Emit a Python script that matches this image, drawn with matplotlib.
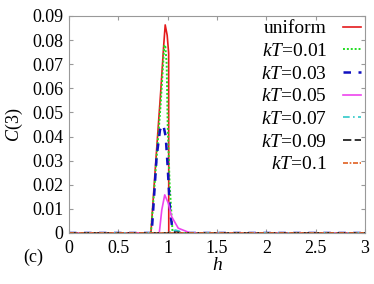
import matplotlib
matplotlib.use('Agg')
import matplotlib.pyplot as plt

plt.rcParams['font.family'] = 'Liberation Serif'
plt.rcParams['mathtext.fontset'] = 'custom'
plt.rcParams['mathtext.rm'] = 'Liberation Serif'
plt.rcParams['mathtext.it'] = 'Liberation Serif:italic'

h_uni = [0, 0.83, 0.88, 0.93, 0.96, 0.975, 0.995, 1.01, 1.011, 3.0]
c_uni = [0, 0, 0.030, 0.059, 0.078, 0.0863, 0.082, 0.0745, 0, 0]

h_001 = [0, 0.83, 0.88, 0.93, 0.965, 0.975, 0.99, 1.0, 1.02, 1.05, 3.0]
c_001 = [0, 0, 0.027, 0.054, 0.0775, 0.078, 0.070, 0.045, 0.020, 0, 0]

h_003 = [0, 0.838, 0.888, 0.922, 0.945, 0.96, 0.98, 1.0, 1.023, 1.05, 1.07, 3.0]
c_003 = [0, 0, 0.0316, 0.0427, 0.0448, 0.0440, 0.040, 0.0275, 0.0095, 0.001, 0, 0]

h_005 = [0, 0.915, 0.94, 0.97, 1.006, 1.04, 1.107, 1.23, 3.0]
c_005 = [0, 0, 0.0095, 0.0158, 0.0124, 0.0068, 0.002, 0, 0]

h_007 = [0, 1.0, 1.05, 1.08, 1.12, 1.16, 3.0]
c_007 = [0, 0, 0.0008, 0.0012, 0.0007, 0, 0]

h_009 = [0, 1.0, 1.05, 1.1, 1.15, 3.0]
c_009 = [0, 0, 0.0003, 0.0003, 0, 0]

h_01 = [0, 3.0]
c_01 = [0, 0]

fig = plt.figure(figsize=(3.74, 2.84), dpi=100)
ax = fig.add_axes([0.1845, 0.1796, 0.7915, 0.7641])

ax.plot(h_uni, c_uni, color='#e41a1c', lw=1.2, label='uniform')
ax.plot(h_001, c_001, color='#22dd22', lw=1.4, ls=(0, (1, 1)), label=r'$kT$=0.01')
ax.plot(h_003, c_003, color='#1010c0', lw=1.8, ls=(0, (3, 3)), label=r'$kT$=0.03')
ax.plot(h_005, c_005, color='#ee44ee', lw=1.2, label=r'$kT$=0.05')
ax.plot(h_007, c_007, color='#30c8c8', lw=1.2, ls=(0, (4, 2, 1, 2)), label=r'$kT$=0.07')
ax.plot(h_009, c_009, color='#111111', lw=1.2, ls=(0, (5, 2)), label=r'$kT$=0.09')
ax.plot(h_01, c_01, color='#e06020', lw=1.2, ls=(0, (3, 1, 1, 1)), label=r'$kT$=0.1')

ax.set_xlim(0, 3)
ax.set_ylim(0, 0.09)
ax.set_xticks([0, 0.5, 1, 1.5, 2, 2.5, 3])
ax.set_xticklabels(['0', '0.5', '1', '1.5', '2', '2.5', '3'])
ax.set_yticks([0, 0.01, 0.02, 0.03, 0.04, 0.05, 0.06, 0.07, 0.08, 0.09])
ax.set_yticklabels(['0', '0.01', '0.02', '0.03', '0.04', '0.05', '0.06', '0.07', '0.08', '0.09'])
ax.tick_params(direction='in', top=True, right=True, labelsize=13, length=3,
               color='#999999')
ax.tick_params(axis='x', pad=5)
ax.tick_params(axis='y', pad=4)
for s in ax.spines.values():
    s.set_color('#999999')

ax.set_xlabel(r'$h$', fontsize=14, labelpad=0)
ax.set_ylabel(r'$C$(3)', fontsize=13, labelpad=5)
fig.text(0.088, 0.095, '(c)', fontsize=13, ha='center', va='center')

ax.legend(loc='upper right', frameon=False, markerfirst=False, fontsize=14,
          handlelength=0.95, handletextpad=0.8, labelspacing=0.26,
          borderaxespad=0.0, borderpad=0.2)

fig.savefig('out.png', dpi=100)
